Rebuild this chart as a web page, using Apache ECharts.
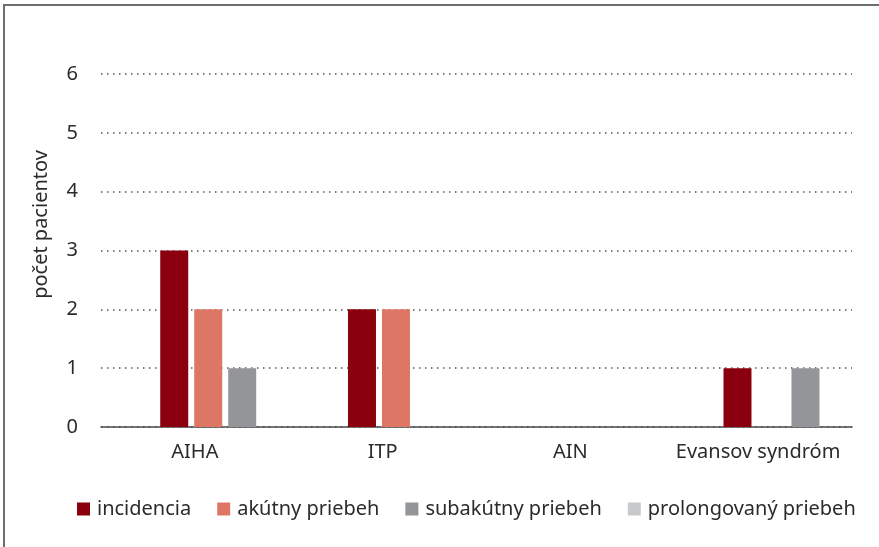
<!DOCTYPE html>
<html>
<head>
<meta charset="utf-8">
<script src="https://cdn.jsdelivr.net/npm/echarts@6/dist/echarts.min.js"></script>
<style>
  html, body { margin: 0; padding: 0; background: #fff; overflow: hidden; }
  #chart { position: absolute; left: 0; top: 0; width: 879px; height: 547px; }
  #frame {
    position: absolute; left: 3px; top: 4px; width: 900px; height: 600px;
    border-top: 2px solid #6e6e6e; border-left: 2px solid #6e6e6e;
    pointer-events: none;
  }
</style>
</head>
<body>
<div id="chart"></div>
<div id="frame"></div>
<script>
const categories = ['AIHA', 'ITP', 'AIN', 'Evansov syndróm']
const incidencia = [3, 2, 0, 1]
const akutny = [2, 2, 0, 0]
const subakutny = [1, 0, 0, 1]
const prolongovany = [0, 0, 0, 0]
const yTicks = [0, 1, 2, 3, 4, 5, 6]

const font = 'Noto Sans'
const textColor = '#2b2b2b'

const chart = echarts.init(document.getElementById('chart'))

const barSeries = (name, data, color) => ({
  name,
  type: 'bar',
  data,
  barWidth: 28,
  barGap: '21.4%',
  itemStyle: { color },
})

chart.setOption({
  animation: false,
  grid: { left: 101, right: 27, top: 74, bottom: 120 },
  legend: {
    data: ['incidencia', 'akútny priebeh', 'subakútny priebeh', 'prolongovaný priebeh'],
    left: 72,
    top: 494,
    itemWidth: 13,
    itemHeight: 13,
    itemGap: 26,
    icon: 'rect',
    textStyle: { fontFamily: font, fontSize: 20, color: textColor, padding: [0, 0, 0, 2] },
  },
  xAxis: {
    type: 'category',
    data: categories,
    axisLine: { lineStyle: { color: '#4a4a4a', width: 1.5 } },
    axisTick: { show: false },
    axisLabel: { fontFamily: font, fontSize: 20, color: textColor, margin: 15, interval: 0 },
  },
  yAxis: {
    type: 'value',
    min: yTicks[0],
    max: yTicks[yTicks.length - 1],
    interval: 1,
    name: 'počet pacientov',
    nameLocation: 'middle',
    nameGap: 50,
    nameTextStyle: { fontFamily: font, fontSize: 20, color: textColor, padding: [0, 0, 0, 52] },
    axisLine: { show: false },
    axisTick: { show: false },
    axisLabel: { fontFamily: font, fontSize: 20, color: textColor, margin: 23 },
    splitLine: { lineStyle: { color: '#555', width: 1.5, type: [1.5, 4.5] } },
  },
  series: [
    // empty spacer so the bar group sits where the reference has it
    { name: 'spacer', type: 'bar', data: [], barWidth: 50, barGap: '21.4%', silent: true },
    barSeries('incidencia', incidencia, '#8a000f'),
    barSeries('akútny priebeh', akutny, '#de7666'),
    barSeries('subakútny priebeh', subakutny, '#949599'),
    barSeries('prolongovaný priebeh', prolongovany, '#c8c9cb'),
  ],
})
</script>
</body>
</html>
